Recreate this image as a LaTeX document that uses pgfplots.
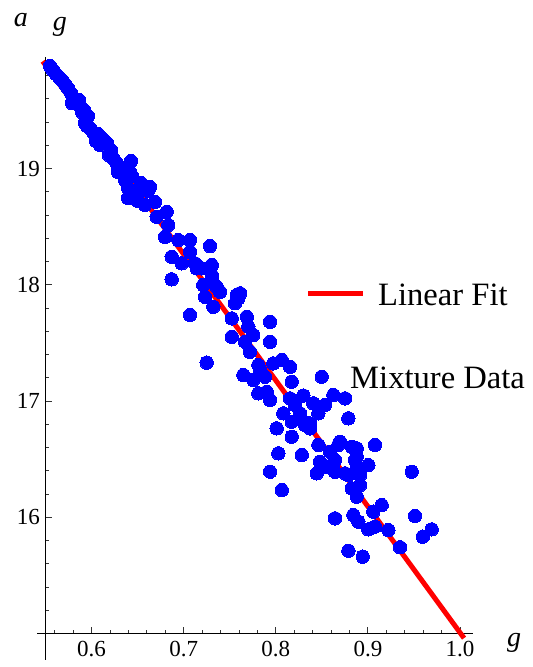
\documentclass[border=0pt]{standalone}
\usepackage{fontspec}
\setmainfont{Liberation Serif}
\usepackage{pgfplots}
\pgfplotsset{compat=1.18}
\definecolor{mblue}{rgb}{0,0,1}
\definecolor{mred}{rgb}{1,0,0}
\begin{document}
\begin{tikzpicture}
\begin{axis}[
  scale only axis,
  width=427.2pt, height=576.5pt,
  xmin=0.55, xmax=1.0138, ymin=15, ymax=19.96,
  axis x line*=bottom, axis y line*=left,
  clip=false,
  axis line style={line width=0.9pt, black},
  tick align=inside,
  major tick length=6.5pt, minor tick length=3.8pt,
  every tick/.style={black!80, line width=0.8pt},
  xtick={0.6,0.7,0.8,0.9,1.0},
  minor xtick={0.56,0.58,0.62,0.64,0.66,0.68,0.72,0.74,0.76,0.78,0.82,0.84,0.86,0.88,0.92,0.94,0.96,0.98},
  ytick={16,17,18,19},
  minor ytick={15.2,15.4,15.6,15.8,16.2,16.4,16.6,16.8,17.2,17.4,17.6,17.8,18.2,18.4,18.6,18.8,19.2,19.4,19.6,19.8},
  /pgf/number format/assume math mode=true,
  tick label style={font=\fontsize{23}{23}\selectfont},
  xticklabel style={/pgf/number format/fixed, /pgf/number format/fixed zerofill, /pgf/number format/precision=1, yshift=-4pt},
  yticklabel style={xshift=-2pt},
]
\coordinate (O) at (axis cs:0.55,15);
\draw[line width=0.9pt] (axis cs:0.5408,15) -- (axis cs:0.55,15);
\draw[line width=0.9pt] (axis cs:0.55,15) -- (axis cs:0.55,14.772);

% linear fit
\addplot[mred, line width=5pt, no marks] coordinates {(0.547,19.923) (1.0044,14.960)};

% mixture data
\addplot[only marks, mark=*, mark size=6.7pt, mark options={draw=mblue, fill=mblue, line width=0pt}] coordinates {
(0.5549,19.882) (0.5581,19.847) (0.5614,19.813) (0.5647,19.787) (0.5679,19.761)
(0.5712,19.727) (0.5744,19.692) (0.5777,19.649) (0.5809,19.606) (0.5788,19.563)
(0.5864,19.589) (0.5842,19.581) (0.5875,19.538) (0.5918,19.503) (0.5961,19.452)
(0.5896,19.486) (0.5929,19.391) (0.5983,19.348) (0.6016,19.314) (0.6070,19.297)
(0.6113,19.262) (0.6092,19.202) (0.6168,19.219) (0.6211,19.159) (0.6233,19.090)
(0.6265,19.056) (0.6287,19.022) (0.6363,19.004) (0.6428,19.065) (0.6417,18.970)
(0.6363,18.901) (0.6396,18.832) (0.6439,18.936) (0.6537,18.875) (0.6613,18.807)
(0.6396,18.746) (0.6504,18.721) (0.6580,18.686) (0.6689,18.712) (0.6635,18.841)
(0.6472,18.789) (0.6287,18.970) (0.6189,19.116) (0.6048,19.237) (0.5951,19.366)
(0.6816,18.628) (0.6707,18.585) (0.6833,18.514) (0.6798,18.413) (0.6942,18.385)
(0.7069,18.385) (0.6870,18.241) (0.6979,18.185) (0.7069,18.284) (0.7123,18.185)
(0.7286,18.333) (0.7196,18.142) (0.7305,18.170) (0.7305,18.084) (0.6870,18.047)
(0.7213,17.998) (0.7359,17.983) (0.7395,17.940) (0.7232,17.897) (0.7576,17.912)
(0.7142,18.142) (0.7305,18.041) (0.7612,17.927) (0.7594,17.884) (0.7558,17.841)
(0.7322,17.811) (0.7069,17.740) (0.7522,17.711) (0.7685,17.725) (0.7702,17.639)
(0.7938,17.682) (0.7522,17.553) (0.7666,17.510) (0.7756,17.568) (0.7938,17.510)
(0.7720,17.424) (0.7250,17.330) (0.7811,17.310) (0.7973,17.324) (0.8065,17.353)
(0.8155,17.295) (0.7648,17.224) (0.7756,17.181) (0.7883,17.209) (0.8173,17.166)
(0.8499,17.209) (0.7811,17.066) (0.7902,17.080) (0.7938,17.009) (0.8155,17.023)
(0.8299,17.047) (0.8625,17.052) (0.8752,17.023) (0.8408,16.980) (0.8535,16.966)
(0.8082,16.894) (0.8209,16.966) (0.8263,16.894) (0.8462,16.894) (0.8173,16.822)
(0.8299,16.822) (0.8010,16.765) (0.8372,16.808) (0.8372,16.765) (0.7829,17.267)
(0.8788,16.851) (0.8318,16.794) (0.8173,16.693) (0.8462,16.622) (0.8698,16.650)
(0.8825,16.607) (0.9078,16.622) (0.8028,16.550) (0.8282,16.536) (0.8589,16.564)
(0.8480,16.478) (0.8625,16.464) (0.8879,16.521) (0.8752,16.378) (0.8445,16.378)
(0.8643,16.392) (0.9005,16.449) (0.7938,16.392) (0.9476,16.392) (0.8065,16.234)
(0.8825,16.249) (0.8915,16.277) (0.8879,16.177) (0.8879,16.593) (0.8553,16.435)
(0.8879,16.435) (0.8788,16.363) (0.8915,16.363) (0.9150,16.105) (0.8679,16.622)
(0.8643,16.492) (0.8860,16.492) (0.9059,16.048) (0.8643,15.991) (0.8842,16.019)
(0.8896,15.962) (0.9005,15.896) (0.9078,15.919) (0.9222,15.890) (0.9512,16.011)
(0.9693,15.896) (0.9596,15.833) (0.9349,15.742) (0.8788,15.712) (0.8944,15.661)
};

% legend-like annotations
\draw[mred, line width=5pt] (axis cs:0.8350,17.929) -- (axis cs:0.8947,17.929);
\node[anchor=base west, inner sep=0pt, font=\fontsize{32.6}{34}\selectfont] at (axis cs:0.9110,17.826) {Linear Fit};
\node[anchor=base west, inner sep=0pt, font=\fontsize{32.6}{34}\selectfont] at (axis cs:0.8806,17.112) {Mixture Data};

% axis labels
\node[inner sep=0pt, font=\fontsize{28}{28}\selectfont\itshape] at (axis cs:1.0587,14.918) {g};
\node[inner sep=0pt, font=\fontsize{28}{28}\selectfont\itshape] at (axis cs:0.5657,20.217) {g};
\node[inner sep=0pt, font=\fontsize{28}{28}\selectfont\itshape] at (axis cs:0.5234,20.277) {a};
\end{axis}
\pgfresetboundingbox
\path (O) ++(-45.5pt,-33.5pt) rectangle ++(533pt,667pt);
\end{tikzpicture}
\end{document}
